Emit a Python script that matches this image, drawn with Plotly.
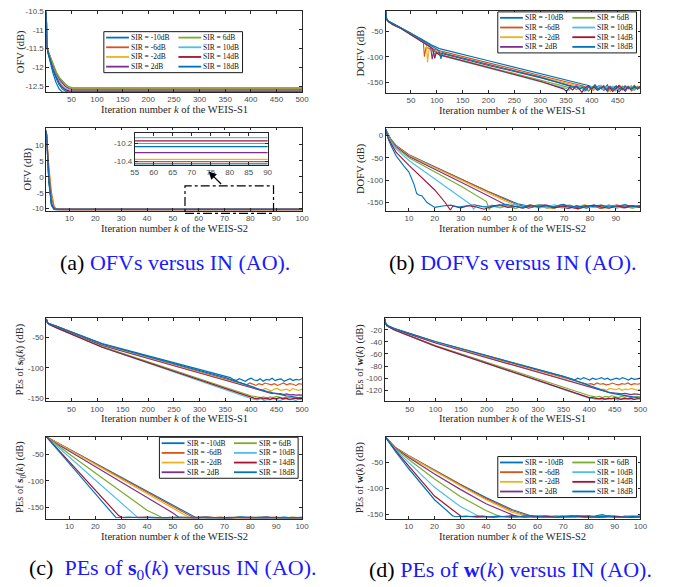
import numpy as np
import plotly.graph_objects as go

W, H = 673, 587

sir_labels = ["SIR = -10dB", "SIR = -6dB", "SIR = -2dB", "SIR = 2dB",
              "SIR = 6dB", "SIR = 10dB", "SIR = 14dB", "SIR = 18dB"]
colors = ["#0072BD", "#D95319", "#EDB120", "#7E2F8E",
          "#77AC30", "#4DBEEE", "#A2142F", "#0072BD"]

# ---------------- (a) OFV, WEIS-S1 ----------------
a1_k = [[1, 2, 4, 8, 14, 20, 26, 32, 38, 45, 52, 500]] * 8
a1_v = [
    [-10.5, -11.35, -11.6, -11.85, -12.15, -12.4, -12.57, -12.65, -12.67, -12.67, -12.67, -12.67],
    [-10.55, -11.4, -11.55, -11.7, -11.95, -12.12, -12.27, -12.37, -12.45, -12.52, -12.55, -12.55],
    [-10.55, -11.4, -11.55, -11.71, -11.96, -12.13, -12.28, -12.38, -12.46, -12.53, -12.56, -12.56],
    [-10.55, -11.41, -11.56, -11.72, -11.98, -12.16, -12.31, -12.42, -12.5, -12.56, -12.58, -12.58],
    [-10.55, -11.4, -11.54, -11.69, -11.94, -12.11, -12.26, -12.36, -12.44, -12.51, -12.54, -12.54],
    [-10.55, -11.42, -11.57, -11.74, -12.01, -12.2, -12.36, -12.47, -12.55, -12.59, -12.6, -12.6],
    [-10.55, -11.43, -11.58, -11.76, -12.04, -12.24, -12.41, -12.52, -12.59, -12.62, -12.63, -12.63],
    [-10.52, -11.44, -11.59, -11.78, -12.07, -12.28, -12.46, -12.57, -12.63, -12.65, -12.65, -12.65],
]
a1_tail = [[]] * 8

# ---------------- (a) OFV, WEIS-S2 (and inset) ----------------
a2_k = [[1, 2, 3, 4, 5, 6, 8, 100]] * 8
a2_v = [
    [14.5, -1, -8.8, -10.3, -10.42, -10.43, -10.43, -10.43],
    [14.5, 3, -5, -9.3, -10.3, -10.4, -10.405, -10.405],
    [14.5, 2, -6, -9.6, -10.33, -10.378, -10.38, -10.38],
    [14.5, 1, -7, -9.8, -10.28, -10.303, -10.305, -10.305],
    [14.5, 0, -7.5, -9.9, -10.19, -10.203, -10.205, -10.205],
    [14.5, -0.5, -8, -10.0, -10.13, -10.139, -10.14, -10.14],
    [14.5, -1, -8.5, -10.05, -10.17, -10.174, -10.175, -10.175],
    [14.5, -2, -9, -10.15, -10.235, -10.24, -10.24, -10.24],
]
a2_tail = [[]] * 8

# ---------------- (b) DOFV, WEIS-S1 ----------------
b1_k = [
    [1, 3, 6, 15, 30, 50, 70, 90, 105, 200, 300, 395],
    [1, 3, 6, 15, 30, 50, 70, 74, 76, 79, 90, 100, 200, 300, 385],
    [1, 3, 6, 15, 30, 50, 70, 80, 82, 85, 95, 200, 300, 378],
    [1, 3, 6, 15, 30, 50, 70, 88, 91, 94, 100, 200, 300, 370],
    [1, 3, 6, 15, 30, 50, 70, 90, 95, 98, 105, 200, 300, 358],
    [1, 3, 6, 15, 30, 50, 70, 92, 96, 99, 105, 200, 300, 350],
    [1, 3, 6, 15, 30, 50, 70, 92, 96, 99, 105, 200, 300, 345],
    [1, 3, 6, 15, 30, 50, 70, 90, 104, 108, 111, 120, 200, 300, 365],
]
b1_v = [
    [-10, -26, -30, -35, -42, -53, -65, -77, -84, -108, -133, -157],
    [-10, -27, -31, -36, -43, -55, -68, -72, -100, -82, -84, -87, -112, -137, -158],
    [-10, -27, -31, -36, -43, -55, -68, -76, -111, -85, -88, -115, -139, -159],
    [-10, -27, -31, -36, -43, -56, -69, -80, -105, -88, -91, -117, -141, -160],
    [-10, -27, -31, -37, -44, -56, -69, -82, -97, -90, -95, -120, -146, -161],
    [-10, -27, -31, -37, -44, -57, -70, -84, -98, -92, -97, -123, -149, -162],
    [-10, -27, -31, -37, -44, -57, -70, -84, -103, -92, -96, -122, -148, -163],
    [-10, -26, -30, -35, -42, -54, -66, -79, -88, -104, -92, -95, -115, -140, -160],
]
b1_tail = [
    [-161, -156, -165, -159, -163, -155, -167, -160, -158, -164, -161, -168, -159, -162, -156, -164, -160],
    [-162, -158, -166, -160, -157, -164, -161, -169, -158, -163, -160, -156, -165, -162, -159, -167, -161, -158, -163],
    [-163, -157, -161, -166, -159, -162, -156, -164, -160, -168, -158, -163, -161, -157, -165, -160, -162, -166, -158, -161],
    [-164, -158, -162, -167, -160, -157, -163, -159, -166, -161, -158, -164, -160, -169, -162, -157, -163, -160, -165, -159, -162],
    [-158, -165, -161, -157, -163, -167, -160, -158, -164, -161, -156, -166, -159, -162, -160, -165, -158, -163, -161, -157, -164, -160, -162],
    [-166, -159, -163, -157, -161, -168, -160, -158, -164, -162, -156, -165, -160, -163, -158, -167, -161, -159, -164, -157, -162, -166, -160, -163],
    [-168, -160, -165, -158, -162, -170, -161, -157, -164, -159, -166, -162, -158, -165, -160, -168, -163, -157, -161, -166, -159, -164, -160, -162, -158],
    [-157, -163, -160, -166, -158, -162, -155, -164, -161, -159, -167, -160, -163, -157, -162, -165, -159, -161, -164, -158, -163, -160],
]

# ---------------- (b) DOFV, WEIS-S2 ----------------
b2_k = [
    [1, 2, 3, 5, 10, 20, 30, 40, 52],
    [1, 2, 3, 5, 10, 20, 30, 40, 51],
    [1, 2, 3, 5, 10, 20, 30, 40, 50],
    [1, 2, 3, 5, 10, 20, 30, 40, 47],
    [1, 2, 3, 5, 10, 20, 30, 40, 41, 42],
    [1, 2, 3, 5, 10, 20, 30, 34, 35, 36],
    [1, 2, 3, 5, 10, 15, 20, 24, 25, 26, 27],
    [1, 2, 3, 5, 8, 10, 12, 13, 14, 15, 17, 20],
]
b2_v = [
    [14, 2, -8, -22, -43, -70, -97, -124, -153],
    [14, 1, -9, -23, -44, -71, -98, -125, -153],
    [14, 0, -10, -24, -45, -72, -100, -127, -154],
    [14, -1, -11, -25, -47, -75, -104, -133, -154],
    [14, -2, -12, -27, -50, -81, -113, -148, -166, -158],
    [14, -4, -14, -30, -56, -98, -140, -155, -165, -157],
    [14, -6, -17, -37, -67, -95, -122, -150, -160, -167, -158],
    [14, -8, -22, -45, -68, -82, -110, -130, -134, -135, -150, -161],
]
b2_tail = [
    [-157, -160, -155, -162, -158, -154, -161, -159, -163, -156, -160, -158, -162, -155, -159, -161],
    [-159, -155, -161, -157, -163, -158, -156, -162, -160, -157, -164, -159, -155, -161, -158, -160],
    [-158, -162, -156, -160, -164, -157, -159, -162, -155, -161, -158, -163, -157, -160, -162, -158],
    [-160, -157, -163, -158, -155, -162, -159, -164, -157, -161, -158, -163, -156, -160, -162, -159, -161],
    [-161, -156, -164, -158, -160, -155, -163, -159, -162, -157, -165, -160, -158, -162, -156, -161, -159, -163, -158],
    [-160, -156, -162, -158, -154, -161, -157, -163, -159, -155, -160, -158, -164, -157, -161, -156, -159, -162, -158, -160, -157],
    [-162, -157, -160, -165, -158, -155, -161, -159, -163, -157, -160, -156, -162, -158, -161, -164, -159, -156, -160, -163, -158, -161, -157, -160],
    [-158, -156, -160, -157, -155, -159, -161, -157, -154, -158, -162, -156, -159, -157, -160, -155, -158, -161, -157, -159, -156, -160, -158, -155, -159, -157],
]

# ---------------- (c) PEs of s0(k), WEIS-S1 ----------------
c1_k = [
    [1, 3, 6, 20, 110, 360],
    [1, 3, 6, 20, 110, 380],
    [1, 3, 6, 20, 110, 410],
    [1, 3, 6, 20, 110, 440],
    [1, 3, 6, 20, 110, 400],
    [1, 3, 6, 20, 110, 395],
    [1, 3, 6, 20, 110, 400],
    [1, 3, 6, 20, 110, 350, 420],
]
c1_v = [
    [-19, -25, -27, -31, -60, -116],
    [-19, -25, -27, -31, -61, -124],
    [-19, -25, -27, -31.5, -62, -133],
    [-19, -25, -27.5, -32, -63, -142],
    [-19, -25, -28, -33, -65, -146],
    [-19, -25, -28, -33.5, -66, -150],
    [-19, -25, -28, -33.5, -66, -149],
    [-19, -25, -27, -31, -60.5, -116, -136],
]
c1_tail = [
    [-119, -121, -118, -120, -122, -119, -117, -120, -121, -118, -122, -119, -120, -117, -121, -119, -118, -122, -120, -118, -121, -119, -120, -118],
    [-126, -128, -125, -127, -129, -126, -128, -125, -127, -128, -126, -129, -127, -125, -128, -126, -127, -129, -126, -127],
    [-135, -137, -134, -136, -138, -135, -134, -137, -136, -135, -138, -134, -136, -137, -135],
    [-142, -143, -142.5, -144, -143, -144.5, -144, -145, -144.5, -145],
    [-147, -148, -149, -148, -150, -148, -149, -147, -149, -150, -148, -149, -148, -150, -149, -148],
    [-151, -152, -153, -151, -154, -152, -153, -151, -152, -154, -152, -151, -153, -152, -154, -151, -153],
    [-150, -151, -149, -151, -150, -152, -150, -151, -149, -151, -150, -152, -151, -150, -151, -150],
    [-138, -139, -140, -142, -142, -144, -145, -146, -147, -148, -148, -149, -150],
]

# ---------------- (c) PEs of s0(k), WEIS-S2 ----------------
c2_k = [
    [1, 5, 10, 20, 30, 40, 50, 59],
    [1, 5, 10, 20, 30, 40, 50, 58],
    [1, 5, 10, 20, 30, 40, 50, 56.5],
    [1, 5, 10, 20, 30, 40, 50, 52.5],
    [1, 5, 10, 20, 30, 40, 46],
    [1, 5, 10, 20, 30, 36.5],
    [1, 5, 10, 20, 29, 30.5],
    [1, 5, 10, 20, 28],
]
c2_v = [
    [-17, -27.5, -40.6, -66.8, -93, -119, -145.4, -169],
    [-17, -27.7, -41, -67.7, -94.3, -121, -147.7, -169],
    [-17, -28, -41.6, -69, -96.4, -123.8, -151.2, -169],
    [-17, -30, -44, -73, -103, -132, -160, -169],
    [-17, -32, -50, -85, -120, -155, -169],
    [-17, -34, -55.5, -98, -141, -169],
    [-17, -38, -65, -118, -165, -169],
    [-17, -39.5, -67.7, -124, -169],
]
c2_tail = [
    [-169, -168.5, -169, -169.5, -168, -169, -169.5, -168.5, -169, -168, -169.5, -169],
    [-168.5, -169, -168, -169.5, -169, -168.5, -169, -169.5, -168, -169, -168.5, -169],
    [-169, -169.5, -168.5, -169, -168, -169, -169.5, -168.5, -169, -169.5, -168, -169],
    [-169, -168, -169.5, -169, -168.5, -169, -168, -169.5, -169, -168.5, -169, -169.5],
    [-169, -168.5, -169.5, -168, -169, -169.5, -168.5, -169, -168, -169, -169.5, -168.5, -169],
    [-168.5, -169, -169.5, -168, -169, -168.5, -169.5, -169, -168, -169, -168.5, -169.5, -169, -168.5],
    [-169, -168, -169.5, -168.5, -169, -169.5, -168, -169, -168.5, -169.5, -169, -168, -169, -168.5, -169],
    [-168, -169, -168.5, -169.5, -168, -169, -168.5, -169, -169.5, -168, -169, -168.5, -169, -169.5, -168.5],
]

# ---------------- (d) PEs of w(k), WEIS-S1 ----------------
d1_k = [
    [1, 3, 6, 20, 100, 360],
    [1, 3, 6, 20, 100, 385],
    [1, 3, 6, 20, 100, 410],
    [1, 3, 6, 20, 100, 440],
    [1, 3, 6, 20, 100, 395],
    [1, 3, 6, 20, 100, 400],
    [1, 3, 6, 20, 100, 400],
    [1, 3, 6, 20, 100, 350, 420],
]
d1_v = [
    [-2, -10, -13, -18, -40, -99],
    [-2, -10, -13, -18.5, -40.5, -107],
    [-2, -10, -13, -19, -41, -116],
    [-2, -10, -13.5, -19, -42, -124],
    [-2, -10, -14, -20, -46, -128],
    [-2, -10, -14, -20.5, -47, -133],
    [-2, -10, -14, -20.5, -47, -132],
    [-2, -10, -13, -18, -39.5, -97, -118],
]
d1_tail = [
    [-101, -103, -100, -102, -99, -101, -103, -100, -102, -101, -99, -102, -100, -103, -101, -100, -102, -99, -101, -103, -100, -102, -101, -100],
    [-108, -110, -109, -111, -108, -110, -109, -111, -110, -108, -110, -111, -109, -110, -108, -111, -109, -110, -109],
    [-117, -119, -118, -120, -117, -118, -119, -117, -120, -118, -119, -117, -118, -120, -118],
    [-124, -125, -125, -126, -125, -126, -127, -126, -127, -127],
    [-129, -130, -131, -130, -132, -130, -131, -129, -131, -132, -130, -131, -130, -132, -131, -130, -131],
    [-133, -135, -134, -136, -134, -135, -133, -135, -136, -134, -135, -134, -136, -135, -134, -135],
    [-132, -133, -134, -133, -135, -133, -134, -132, -134, -135, -133, -134, -133, -135, -134, -133],
    [-120, -122, -124, -125, -126, -127, -128, -129, -130, -131, -132, -132, -133],
]

# ---------------- (d) PEs of w(k), WEIS-S2 ----------------
d2_k = [
    [1, 5, 10, 20, 30, 40, 50, 58.5],
    [1, 5, 10, 20, 30, 40, 50, 57.5],
    [1, 5, 10, 20, 30, 40, 50, 56.5],
    [1, 5, 10, 20, 30, 40, 52],
    [1, 5, 10, 20, 30, 40, 45.5],
    [1, 5, 10, 20, 30, 37.5],
    [1, 5, 10, 20, 30.5],
    [1, 5, 10, 20, 27, 28],
]
d2_v = [
    [-1, -22, -37, -65, -92, -118, -141, -155],
    [-1, -22, -37.5, -66, -93, -120, -143, -155],
    [-1, -22.5, -38, -67, -95, -122, -146, -155],
    [-1, -23, -40, -72, -102, -130, -155],
    [-1, -24, -44, -82, -116, -143, -155],
    [-1, -26, -50, -98, -135, -155],
    [-1, -28, -57, -115, -155],
    [-1, -30, -62, -122, -153, -155],
]
d2_tail = [
    [-155, -154, -156, -155, -153, -155, -156, -154, -151, -155, -156, -154, -155, -156],
    [-156, -155, -154, -156, -155, -153, -155, -156, -154, -155, -156, -155, -154, -155],
    [-155, -156, -154, -155, -156, -155, -153, -155, -156, -154, -155, -156, -154, -155],
    [-154, -155, -156, -155, -154, -156, -155, -153, -155, -156, -154, -155, -156, -155],
    [-155, -156, -154, -155, -156, -154, -155, -156, -153, -155, -154, -156, -155, -154, -155],
    [-156, -155, -154, -156, -155, -153, -155, -156, -155, -154, -156, -155, -154, -156, -155, -154],
    [-155, -154, -156, -155, -153, -156, -155, -154, -156, -155, -154, -155, -156, -154, -155, -156, -155],
    [-154, -156, -155, -154, -156, -155, -153, -155, -156, -154, -155, -156, -155, -154, -156, -155, -154],
]

# ---------------- axis settings ----------------
x_tick_500 = [50, 100, 150, 200, 250, 300, 350, 400, 450, 500]
x_tick_450 = [50, 100, 150, 200, 250, 300, 350, 400, 450]
x_tick_100 = [10, 20, 30, 40, 50, 60, 70, 80, 90, 100]
x_tick_90 = [10, 20, 30, 40, 50, 60, 70, 80, 90]
x_tick_inset = [55, 60, 65, 70, 75, 80, 85, 90]

panels = {
    1: ((43, 303), (7, 89), [1, 500], [-12.65, -10.5], x_tick_500,
        [-12.5, -12, -11.5, -11, -10.5], ["-12.5", "-12", "-11.5", "-11", "-10.5"]),
    2: ((43, 303), (125, 209), [1, 100], [-10.6, 15.5], x_tick_100,
        [-10, -5, 0, 5, 10], ["-10", "-5", "0", "5", "10"]),
    3: ((133, 268), (130.3, 162.7), [55, 90], [-10.44, -10.086], x_tick_inset,
        [-10.4, -10.2], ["-10.4", "-10.2"]),
    4: ((388, 647), (7, 90), [1, 494], [-171, -10], x_tick_450,
        [-150, -100, -50], ["-150", "-100", "-50"]),
    5: ((388, 647), (125, 209), [1, 99.5], [-168, 18], x_tick_90,
        [-150, -100, -50, 0], ["-150", "-100", "-50", "0"]),
    6: ((43, 303), (318, 402), [1, 500], [-155, -18], x_tick_500,
        [-150, -100, -50], ["-150", "-100", "-50"]),
    7: ((43, 303), (438, 521), [1, 100], [-171, -17], x_tick_100,
        [-150, -100, -50], ["-150", "-100", "-50"]),
    8: ((387, 647), (318, 402), [1, 500], [-138, -1], x_tick_500,
        [-120, -100, -80, -60, -40, -20], ["-120", "-100", "-80", "-60", "-40", "-20"]),
    9: ((388, 647), (438, 521), [1, 100], [-159, 0], x_tick_100,
        [-150, -100, -50], ["-150", "-100", "-50"]),
}

def px(x):
    return x / W

def py(y):
    return 1 - y / H

fig = go.Figure()
layout = dict(width=W, height=H, margin=dict(l=0, r=0, t=0, b=0),
              paper_bgcolor="white", plot_bgcolor="white", showlegend=False)

axcol = "#262626"
tickfont = dict(family="Liberation Sans, Arial", size=8, color="#4d4d4d")
for n, (xd, yd, xr, yr, xt, yt, ytt) in panels.items():
    sx = "" if n == 1 else str(n)
    layout["xaxis" + sx] = dict(domain=[px(xd[0]), px(xd[1])], range=xr, anchor="y" + sx,
                                tickvals=xt, ticks="inside", ticklen=3, tickwidth=0.6,
                                showline=True, mirror="ticks", linecolor=axcol, linewidth=0.8,
                                tickcolor=axcol, showgrid=False, zeroline=False, tickfont=tickfont)
    layout["yaxis" + sx] = dict(domain=[py(yd[1]), py(yd[0])], range=yr, anchor="x" + sx,
                                tickvals=yt, ticktext=ytt, ticks="inside", ticklen=3, tickwidth=0.6,
                                showline=True, mirror="ticks", linecolor=axcol, linewidth=0.8,
                                tickcolor=axcol, showgrid=False, zeroline=False, tickfont=tickfont)

def add_series(ks, vs, tails, xend, axis_n, lw=1.2):
    sx = "" if axis_n == 1 else str(axis_n)
    for i in range(8):
        k = list(ks[i])
        v = list(vs[i])
        t = tails[i]
        if len(t):
            kt = np.linspace(k[-1], xend, len(t) + 1)[1:]
            k = k + list(kt)
            v = v + list(t)
        fig.add_trace(go.Scatter(x=k, y=v, mode="lines", xaxis="x" + sx, yaxis="y" + sx,
                                 line=dict(color=colors[i], width=lw), name=sir_labels[i],
                                 hoverinfo="skip"))

add_series(a1_k, a1_v, a1_tail, 500, 1)
add_series(a2_k, a2_v, a2_tail, 100, 2)
add_series(a2_k, a2_v, a2_tail, 100, 3)
add_series(b1_k, b1_v, b1_tail, 494, 4, 1.1)
add_series(b2_k, b2_v, b2_tail, 99.5, 5, 1.1)
add_series(c1_k, c1_v, c1_tail, 500, 6)
add_series(c2_k, c2_v, c2_tail, 100, 7)
add_series(d1_k, d1_v, d1_tail, 500, 8)
add_series(d2_k, d2_v, d2_tail, 100, 9)

shapes = []
annotations = []

serif = "Liberation Serif, Times New Roman, serif"
title_font = dict(family=serif, size=10.5, color="#262626")

xtitles = [
    (173, 107, "Iteration number <i>k</i> of the WEIS-S1"),
    (173, 227.5, "Iteration number <i>k</i> of the WEIS-S2"),
    (517, 107.5, "Iteration number <i>k</i> of the WEIS-S1"),
    (517, 227.5, "Iteration number <i>k</i> of the WEIS-S2"),
    (173, 419, "Iteration number <i>k</i> of the WEIS-S1"),
    (173, 538.5, "Iteration number <i>k</i> of the WEIS-S2"),
    (517, 419.3, "Iteration number <i>k</i> of the WEIS-S1"),
    (517, 538.5, "Iteration number <i>k</i> of the WEIS-S2"),
]
for x, y, t in xtitles:
    annotations.append(dict(x=px(x), y=py(y), xref="paper", yref="paper", text=t,
                            showarrow=False, font=title_font, xanchor="center", yanchor="middle"))
ytitles = [
    (18, 48, "OFV (dB)"),
    (24, 167, "OFV (dB)"),
    (363, 48, "DOFV (dB)"),
    (363, 167, "DOFV (dB)"),
    (17, 360, "PEs of <b>s</b><sub>0</sub>(<i>k</i>) (dB)"),
    (17, 479, "PEs of <b>s</b><sub>0</sub>(<i>k</i>) (dB)"),
    (362, 360, "PEs of <b>w</b>(<i>k</i>) (dB)"),
    (362, 479, "PEs of <b>w</b>(<i>k</i>) (dB)"),
]
for x, y, t in ytitles:
    annotations.append(dict(x=px(x), y=py(y), xref="paper", yref="paper", text=t, textangle=-90,
                            showarrow=False, font=title_font, xanchor="center", yanchor="middle"))

def add_legend(x0, y0):
    w, h = 141, 41.5
    shapes.append(dict(type="rect", xref="paper", yref="paper", x0=px(x0), x1=px(x0 + w),
                       y0=py(y0 + h), y1=py(y0), line=dict(color="#1a1a1a", width=1),
                       fillcolor="white", layer="above"))
    for i in range(8):
        col, row = i // 4, i % 4
        ly = y0 + 6 + row * 9.8
        lx = x0 + col * 73.5
        shapes.append(dict(type="line", xref="paper", yref="paper", x0=px(lx + 2.3), x1=px(lx + 25.5),
                           y0=py(ly), y1=py(ly), line=dict(color=colors[i], width=1.8), layer="above"))
        annotations.append(dict(x=px(lx + 25.5), y=py(ly), xref="paper", yref="paper",
                                text=sir_labels[i], showarrow=False, xanchor="left", yanchor="middle",
                                font=dict(family=serif, size=7.5, color="#111111")))

add_legend(101.5, 28)
add_legend(502, 8)
add_legend(158, 438.5)
add_legend(502, 458)

shapes.append(dict(type="rect", xref="paper", yref="paper", x0=px(184), x1=px(274), y0=py(212), y1=py(184),
                   line=dict(color="black", width=1.2, dash="dashdot"), layer="above"))
annotations.append(dict(x=px(208), y=py(169.5), xref="paper", yref="paper", ax=14, ay=14,
                        text="", showarrow=True, arrowhead=2, arrowsize=1.3, arrowwidth=1.2,
                        arrowcolor="black"))

cap_font = dict(family=serif, size=22, color="black")
blue = "#1a1aff"
captions = [
    (174, 262, "(a) <span style='color:%s'>OFVs versus IN (AO).</span>" % blue),
    (517, 262, "(b) <span style='color:%s'>DOFVs versus IN (AO).</span>" % blue),
    (172, 572, "(c)  <span style='color:%s'>PEs of <b>s</b><sub>0</sub>(<i>k</i>) versus IN (AO).</span>" % blue),
    (515, 572, "(d) <span style='color:%s'>PEs of <b>w</b>(<i>k</i>) versus IN (AO).</span>" % blue),
]
for x, y, t in captions:
    annotations.append(dict(x=px(x), y=py(y), xref="paper", yref="paper", text=t, showarrow=False,
                            font=cap_font, xanchor="center", yanchor="middle"))

layout["shapes"] = shapes
layout["annotations"] = annotations
fig.update_layout(**layout)
fig.write_html("out.html", config={"displayModeBar": False},
               post_script="document.body.style.margin='0px';")
